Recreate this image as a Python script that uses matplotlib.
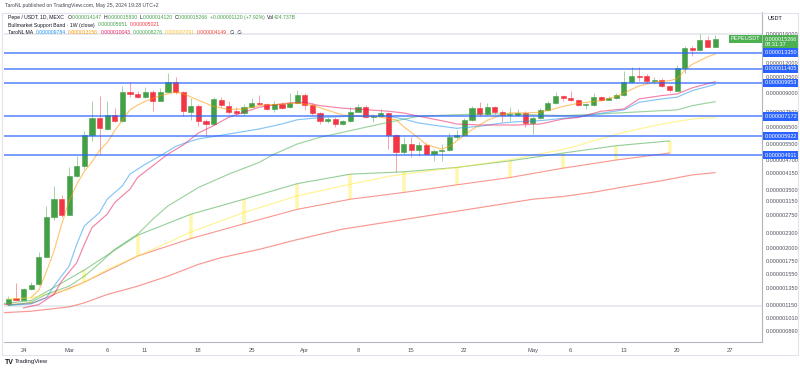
import matplotlib
matplotlib.use('Agg')
import matplotlib.pyplot as plt
from matplotlib.ticker import FixedLocator, FuncFormatter, NullLocator
from matplotlib.patches import Rectangle

plt.rcParams['font.family'] = ['Liberation Sans', 'DejaVu Sans']

E = 1e-9  # all prices below are in units of 0.000000001 USDT

# daily candles, day 0 = 2024-02-22 ... day 93 = 2024-05-25
opens = [1161, 1220, 1208, 1332, 1398, 1835, 2689, 3226, 2760, 4022,
         4409, 5983, 7084, 6344, 7272, 6880, 9129, 8900, 8645, 9129,
         8361, 9129, 10066, 9076, 7512, 7918, 6880, 6661, 8444, 7964,
         7541, 7417, 7887, 8200, 8074, 7712, 8074, 7842, 8200, 8866,
         8018, 7395, 6840, 6995, 6661, 6840, 7512, 7842, 7113, 7224,
         7417, 5983, 5084, 5480, 5169, 5426, 4971, 5133, 5169, 5851,
         5983, 6927, 7765, 7345, 7842, 7468, 7272, 7272, 7417, 6726,
         7039, 7637, 8177, 8785, 8583, 8414, 8018, 8018, 8645, 8444,
         8583, 8839, 10007, 10672, 10610, 10106, 10234, 9623, 9218, 11505,
         13984, 13620, 15120, 14147]
highs = [1256, 1412, 1345, 1426, 1910, 3002, 3648, 3332, 4379, 4889,
         6240, 8361, 8785, 8361, 7765, 9680, 10007, 9218, 9531, 9282,
         9438, 10956, 10537, 9185, 8601, 8098, 6995, 8669, 8669, 8361,
         7864, 8098, 8601, 8839, 8177, 8361, 8256, 8987, 9309, 9014,
         8137, 7490, 7133, 7098, 6927, 7842, 8098, 7980, 7345, 7712,
         7490, 6042, 5851, 5851, 5588, 5535, 5219, 5480, 6100, 6301,
         7063, 7964, 8280, 8177, 7940, 7637, 7842, 7712, 7585, 7210,
         7788, 8361, 9129, 8839, 9218, 8501, 8177, 9014, 8754, 8724,
         9014, 11205, 11585, 11650, 10793, 10537, 10440, 9687, 11845, 14260,
         14290, 15920, 15620, 15830]
lows = [1150, 1200, 1203, 1326, 1385, 1820, 2611, 2689, 2749, 3968,
        4297, 5660, 4971, 6281, 6793, 6793, 8645, 8586, 8586, 7585,
        8296, 9100, 8917, 7182, 6927, 6552, 5943, 6596, 7864, 7345,
        7272, 7272, 7864, 8018, 7637, 7512, 7712, 7792, 8177, 7660,
        7272, 6661, 6726, 6469, 6596, 6793, 7453, 7049, 6774, 7164,
        5219, 4183, 4971, 4827, 4889, 4922, 4656, 4656, 5116, 5758,
        5943, 6860, 7210, 7272, 7345, 6813, 6880, 7210, 6451, 6042,
        6995, 7566, 8098, 8313, 8330, 7900, 7712, 7940, 8330, 8380,
        8501, 8754, 9940, 10135, 9940, 9842, 9560, 9102, 9190, 10925,
        12846, 13590, 14220, 14120]
closes = [1216, 1208, 1332, 1389, 1825, 2689, 3226, 2749, 4022, 4435,
          5983, 7084, 6388, 7272, 6880, 9129, 8900, 8645, 9129, 8361,
          9129, 10066, 9076, 7585, 7918, 6880, 6661, 8501, 8018, 7512,
          7417, 7887, 8177, 8120, 7712, 8074, 7812, 8200, 8866, 8018,
          7395, 6880, 6995, 6661, 6840, 7512, 7842, 7113, 7224, 7417,
          5983, 5084, 5480, 5169, 5426, 4971, 5133, 5169, 5886, 5983,
          6927, 7765, 7345, 7842, 7468, 7272, 7345, 7417, 6726, 7039,
          7637, 8177, 8785, 8583, 8414, 8018, 8056, 8645, 8444, 8583,
          8839, 10007, 10672, 10567, 10106, 10234, 9623, 9282, 11505, 13984,
          13620, 15120, 14147, 15266]

# TaroNL MA lines at sample days
orange_day = [3, 4, 5, 6, 7, 8, 9, 10, 11, 12, 13, 14, 15, 16, 17, 18, 20, 22, 23, 25,
              27, 29, 31, 33, 34, 37, 38, 40, 42, 44, 47, 48, 51, 52, 54, 55, 57, 58, 59, 61,
              63, 65, 66, 68, 70, 72, 73, 75, 78, 80, 83, 85, 87, 88, 89, 90, 91, 92, 93]
orange_val = [1232, 1320, 1580, 1930, 2500, 3150, 3700, 4200, 4600, 5150, 5550, 6250, 6900, 7650, 8000, 8300,
              8785, 9076, 8950, 8400, 7900, 7670, 7712, 7964, 8010, 8120, 8177, 7990, 7620, 7260,
              7182, 7200, 6950, 6500, 5800, 5450, 5219, 5350, 5650, 6300, 6900, 7300, 7417, 7417,
              7468, 7750, 7900, 8150, 8361, 8700, 9650, 10007, 10150, 10340, 11230, 11900, 12354,
              12800, 13156]
blue_day = [0, 3, 5, 6, 8, 9, 10, 12, 13, 15, 16, 18, 20, 22, 23, 25, 29, 33, 36, 38,
            40, 42, 45, 48, 50, 52, 54, 57, 59, 62, 65, 67, 70, 73, 75, 78, 81, 83, 86, 88, 90, 93]
blue_val = [1142, 1158, 1228, 1375, 1672, 2066, 2470, 2815, 3204, 3648, 4089, 4500, 4889, 5350, 5500,
            5758, 6042, 6344, 6661, 6940, 7039, 7113, 7182, 7182, 7182, 6995, 6726, 6515, 6388, 6515,
            6726, 6813, 6880, 7039, 7133, 7395, 7637, 8232, 8501, 8645, 9218, 9784]
pink_day = [2, 4, 6, 7, 9, 10, 11, 13, 14, 16, 17, 19, 21, 23, 25, 27, 29, 31, 33, 35,
            37, 39, 41, 44, 47, 50, 52, 54, 57, 59, 62, 65, 67, 70, 73, 75, 78, 81, 83, 86,
            88, 90, 93]
pink_val = [1113, 1150, 1268, 1444, 1728, 2066, 2431, 2768, 3103, 3532, 3958, 4435, 4971, 5426, 6100,
            6552, 7113, 7468, 7842, 8018, 8177, 8232, 7964, 7765, 7660, 7541, 7417, 7182, 6880, 6661,
            6596, 6596, 6596, 6661, 6995, 7098, 7541, 7712, 8501, 8785, 8917, 9470, 10043]
green_day = [0, 3, 5, 8, 10, 12, 14, 17, 19, 21, 23, 25, 29, 33, 35, 38, 41, 44, 47, 50,
             54, 58, 62, 66, 70, 73, 78, 82, 86, 88, 90, 93]
green_val = [1139, 1176, 1270, 1375, 1516, 1717, 1967, 2278, 2636, 3002, 3280, 3591, 4089, 4584, 4971,
             5480, 5851, 6143, 6451, 6774, 7182, 7272, 7345, 7345, 7272, 7224, 7345, 7468, 7585, 7637,
             7964, 8276]
yellow_day = [0, 3, 8, 10, 13, 17, 21, 24, 31, 38, 45, 50, 52, 59, 66, 73, 75, 77, 81, 86, 90, 93]
yellow_val = [1216, 1228, 1332, 1430, 1618, 1843, 2100, 2329, 2815, 3309, 3709, 3996, 4089, 4365, 4706,
              5200, 5400, 5660, 6143, 6661, 6995, 7091]
red_day = [-1, 3, 8, 10, 13, 17, 21, 25, 28, 33, 38, 44, 50, 55, 62, 69, 73, 77, 81, 86, 90, 93]
red_val = [1061, 1078, 1124, 1169, 1268, 1375, 1516, 1700, 1814, 1967, 2163, 2396, 2568, 2722, 2952,
           3204, 3290, 3430, 3612, 3837, 4061, 4149]

# Bullmarket Support Band (1W): 20W SMA and 21W EMA
band_day = [-4, 3, 10, 17, 24, 31, 38, 45, 52, 59, 66, 73, 80, 87]
band_sma = [1130, 1196, 1609, 2256, 2768, 3204, 3727, 4089, 4183, 4365, 4656, 5021, 5393, 5651]
band_ema = [1140, 1161, 1430, 1843, 2185, 2523, 2903, 3204, 3421, 3685, 3958, 4335, 4692, 5021]

# horizontal levels drawn on the chart
levels = [13350, 11405, 9953, 7172, 5922, 4911]

price_ticks = [16000, 12000, 10500, 9000, 7500, 6500, 5500, 4700, 4150, 3500, 3150, 2750,
               2300, 2000, 1750, 1550, 1350, 1150, 1010, 890]
date_ticks = [2, 8, 13, 18, 25, 32, 39, 46, 53, 60, 69, 74, 81, 88, 95]
date_labels = ['24', 'Mar', '6', '11', '18', '25', 'Apr', '8', '15', '22', 'May', '6', '13', '20', '27']

up = '#43a047'
dn = '#f23645'
dark = '#131722'
axis_txt = '#50535e'

W, H = 800, 370
fig = plt.figure(figsize=(W / 100, H / 100), dpi=100)
ax = fig.add_axes([4 / W, 28 / H, 758 / W, 330 / H])
ax.set_yscale('log')
ax.set_xlim(-0.57, 99.17)
ax.set_ylim(799 * E, 19800 * E)

# candles
for i in range(len(opens)):
    o, h, l, c = opens[i], highs[i], lows[i], closes[i]
    col = up if c >= o else dn
    ax.vlines(i, l * E, h * E, color=col, lw=0.6, alpha=0.55, zorder=2)
    lo, hi = min(o, c), max(o, c)
    ax.bar(i, (hi - lo) * E, bottom=lo * E, width=0.68, color=col, edgecolor=col,
           lw=0.4, zorder=2.5)

# band: weekly fill marks then the two lines
ax.vlines(band_day, [v * E for v in band_ema], [v * E for v in band_sma],
          color='#fff59d', lw=2.6, alpha=0.8, zorder=1.5)
ax.plot(band_day, [v * E for v in band_sma], color='#4caf50', lw=0.8, alpha=0.6, zorder=3)
ax.plot(band_day, [v * E for v in band_ema], color='#f44336', lw=0.8, alpha=0.55, zorder=3)

ma_lines = [
    (red_day, red_val, '#f44336'),
    (yellow_day, yellow_val, '#ffeb3b'),
    (green_day, green_val, '#4caf50'),
    (blue_day, blue_val, '#2196f3'),
    (pink_day, pink_val, '#e91e63'),
    (orange_day, orange_val, '#ff9800'),
]
for d, v, col in ma_lines:
    ax.plot(d, [x * E for x in v], color=col, lw=0.85, alpha=0.55, zorder=3)

# faint range lines
ax.axhline(15950 * E, color='#e6e8ee', lw=1.3, zorder=1)
ax.axhline(1129 * E, color='#e6e8ee', lw=1.3, zorder=1)

ytr = ax.get_yaxis_transform()
for lv in levels:
    ax.axhline(lv * E, color='#2962ff', lw=1.1, alpha=0.8, zorder=4)
    ax.text(1.003, lv * E, f'{lv * E:.9f}', transform=ytr, ha='left', va='center',
            fontsize=4, color='white', zorder=6, clip_on=False,
            bbox=dict(boxstyle='square,pad=0.3', fc='#2962ff', ec='none'))

last = closes[-1]
ax.annotate(f'{last * E:.9f}\n08:31:37', xy=(1.003, last * E), xycoords=ytr,
            xytext=(0, 1.6), textcoords='offset points', ha='left', va='top',
            fontsize=4, color='white', zorder=6, annotation_clip=False, linespacing=1.05,
            bbox=dict(boxstyle='square,pad=0.2', fc='#4caf50', ec='none'))
ax.text(0.998, last * E, 'PEPEUSDT', transform=ytr, ha='right', va='center',
        fontsize=4, color='white', zorder=6,
        bbox=dict(boxstyle='square,pad=0.3', fc='#4caf50', ec='none'))

# axes styling
ax.yaxis.tick_right()
ax.yaxis.set_major_locator(FixedLocator([t * E for t in price_ticks]))
ax.yaxis.set_minor_locator(NullLocator())
ax.yaxis.set_major_formatter(FuncFormatter(lambda v, p: f'{v:.9f}'))
ax.tick_params(axis='y', length=0, pad=3, labelsize=4, labelcolor=axis_txt)
ax.set_xticks(date_ticks, date_labels)
ax.xaxis.set_minor_locator(NullLocator())
ax.tick_params(axis='x', length=0, pad=4, labelsize=4.2, labelcolor=axis_txt)
for s in ['top', 'left']:
    ax.spines[s].set_visible(False)
for s in ['right', 'bottom']:
    ax.spines[s].set_color('#b2b5be')
    ax.spines[s].set_linewidth(0.8)

fig.add_artist(Rectangle((2 / W, 1 - 355 / H), 796 / W, 342 / H, transform=fig.transFigure,
                         fill=False, ec='#e0e3eb', lw=0.8))

# header texts
renderer = fig.canvas.get_renderer()


def row(x, y, parts, size):
    for s, col, gap in parts:
        t = fig.text(x / W, 1 - y / H, s, fontsize=size, color=col, va='center', ha='left')
        x += t.get_window_extent(renderer).width + gap


fig.text(5 / W, 1 - 6 / H, 'TaroNL published on TradingView.com, May 25, 2024 19:28 UTC+2',
         fontsize=3.7, color='#434651', va='center')
row(8, 17.5, [('Pepe / USDT, 1D, MEXC', dark, 4),
              ('O', dark, 0), ('0.000014147', up, 2),
              ('H', dark, 0), ('0.000015830', up, 2),
              ('L', dark, 0), ('0.000014120', up, 2),
              ('C', dark, 0), ('0.000015266', up, 2),
              ('+0.000001120 (+7.92%)', up, 2),
              ('Vol', dark, 0), ('424.737B', up, 0)], 3.7)
row(8, 25, [('Bullmarket Support Band · 1W (close)', dark, 3),
            ('0.000005651', up, 2), ('0.000005021', dn, 0)], 3.7)
row(8, 33, [('TaroNL MA', dark, 3),
            ('0.000009784', '#2196f3', 2), ('0.000013156', '#ff9800', 2),
            ('0.000010043', '#e91e63', 2), ('0.000008276', '#4caf50', 2),
            ('0.000007091', '#fbc02d', 2), ('0.000004149', '#f44336', 3),
            ('∅  ∅', dark, 0)], 3.7)
fig.text(768 / W, 1 - 18 / H, 'USDT', fontsize=4, color=dark, va='center')

fig.text(5 / W, 1 - 362 / H, 'TV', fontsize=5, weight='bold', color=dark, va='center')
fig.text(15 / W, 1 - 362 / H, 'TradingView', fontsize=4.3, color=dark, va='center')

fig.savefig('out.png', dpi=100, facecolor='white')
